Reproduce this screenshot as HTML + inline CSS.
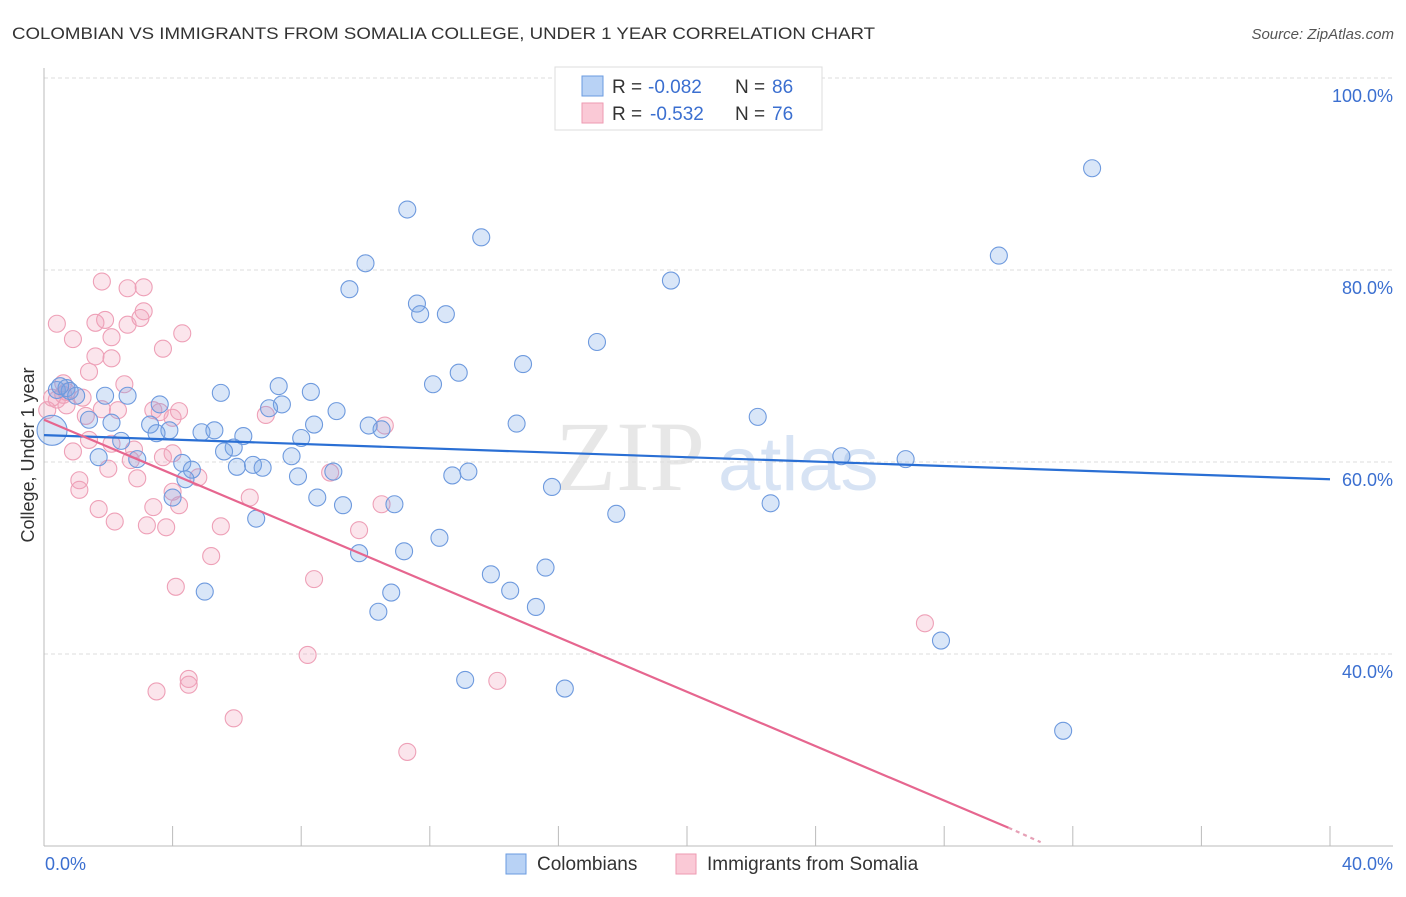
<!DOCTYPE html>
<html><head><meta charset="utf-8"><style>
body{margin:0;background:#fff;font-family:"Liberation Sans",sans-serif;}
</style></head><body>
<svg id="chart" width="1406" height="892" xmlns="http://www.w3.org/2000/svg" font-family="Liberation Sans, sans-serif">
<text x="12" y="39" font-size="17" fill="#333" textLength="863" lengthAdjust="spacingAndGlyphs">COLOMBIAN VS IMMIGRANTS FROM SOMALIA COLLEGE, UNDER 1 YEAR CORRELATION CHART</text>
<text x="1394" y="39" font-size="15" fill="#555" font-style="italic" text-anchor="end">Source: ZipAtlas.com</text>
<g>
<text x="555" y="490" font-size="100" fill="#ddd" font-family="Liberation Serif, serif" opacity="0.7">ZIP</text>
<text x="718" y="490" font-size="76" fill="#c7d8f0" opacity="0.7">atlas</text>
</g>
<g id="grid"></g>
<g id="axes"></g>
<g id="marks"></g>
<text transform="translate(34,455) rotate(-90)" font-size="18" fill="#333" text-anchor="middle">College, Under 1 year</text>
<text x="45" y="870" font-size="18" fill="#3b6fd0">0.0%</text>
<text x="1393" y="870" font-size="18" fill="#3b6fd0" text-anchor="end">40.0%</text>
<g>
<rect x="555" y="67" width="267" height="63" fill="#fff" stroke="#ddd"/>
<rect x="582" y="76" width="21" height="20" fill="#b8d2f5" stroke="#6a9be0"/>
<text y="93" font-size="19" fill="#333"><tspan x="612">R =</tspan><tspan x="648" fill="#3b6fd0">-0.082</tspan><tspan x="735">N =</tspan><tspan x="772" fill="#3b6fd0">86</tspan></text>
<rect x="582" y="103" width="21" height="20" fill="#fac9d6" stroke="#ee9ab2"/>
<text y="120" font-size="19" fill="#333"><tspan x="612">R =</tspan><tspan x="650" fill="#3b6fd0">-0.532</tspan><tspan x="735">N =</tspan><tspan x="772" fill="#3b6fd0">76</tspan></text>
</g>
<g>
<rect x="506" y="854" width="20" height="20" fill="#b8d2f5" stroke="#6a9be0"/>
<text x="537" y="870" font-size="19" fill="#333">Colombians</text>
<rect x="676" y="854" width="20" height="20" fill="#fac9d6" stroke="#ee9ab2"/>
<text x="707" y="870" font-size="19" fill="#333">Immigrants from Somalia</text>
</g>
</svg>
<script>
const blueX=[32.6,11.3,13.6,29.7,10.0,9.5,19.5,11.6,11.7,12.5,17.2,14.9,12.9,12.1,7.3,8.3,5.5,2.6,3.6,7.4,7.0,9.1,22.2,14.7,10.1,10.5,8.4,3.3,3.9,3.5,4.9,5.3,6.2,8.0,2.4,5.9,5.6,7.7,2.9,24.8,26.8,1.7,4.3,4.6,6.0,6.5,6.8,4.4,7.9,9.0,13.2,12.7,15.8,8.5,4.0,9.3,10.9,22.6,17.8,6.6,12.3,11.2,9.8,15.6,13.9,14.5,10.8,5.0,15.3,10.4,27.9,13.1,16.2,31.7,0.4,0.7,0.8,1.0,0.25,1.9,1.4,2.1,0.5];
const blueY=[90.6,86.3,83.4,81.5,80.7,78.0,78.9,76.5,75.4,75.4,72.5,70.2,69.3,68.1,67.9,67.3,67.2,66.9,66.0,66.0,65.6,65.3,64.7,64.0,63.8,63.4,63.9,63.9,63.3,63.0,63.1,63.3,62.7,62.5,62.2,61.5,61.1,60.6,60.3,60.6,60.3,60.5,59.9,59.2,59.5,59.7,59.4,58.2,58.5,59.0,59.0,58.6,57.4,56.3,56.3,55.5,55.6,55.7,54.6,54.1,52.1,50.7,50.5,49.0,48.3,46.6,46.4,46.5,44.9,44.4,41.4,37.3,36.4,32.0,67.5,67.7,67.4,66.9,63.3,66.9,64.4,64.1,67.9];
const pinkX=[1.8,2.6,3.1,0.4,0.9,1.6,1.9,2.6,3.0,3.1,4.3,2.1,3.7,1.6,2.1,1.4,2.5,0.6,0.4,0.7,1.2,1.8,2.3,3.4,3.6,4.2,6.9,10.6,1.4,0.9,2.1,2.8,3.7,4.0,2.0,4.8,1.1,2.9,1.1,4.0,6.4,1.7,2.2,3.4,3.2,3.8,5.5,8.9,10.5,9.8,5.2,8.4,4.1,8.2,27.4,4.5,4.5,3.5,14.1,5.9,11.3,0.1,0.25,0.6,0.7,4.0,1.3,2.7,4.2];
const pinkY=[78.8,78.1,78.2,74.4,72.8,74.5,74.8,74.3,75.0,75.7,73.4,73.0,71.8,71.0,70.8,69.4,68.1,68.2,66.5,65.9,66.7,65.5,65.4,65.4,65.2,65.3,64.9,63.8,62.3,61.1,61.9,61.3,60.5,60.9,59.3,58.4,58.1,58.3,57.1,56.9,56.3,55.1,53.8,55.3,53.4,53.2,53.3,58.9,55.6,52.9,50.2,47.8,47.0,39.9,43.2,37.4,36.8,36.1,37.2,33.3,29.8,65.4,66.7,67.0,67.3,64.6,64.8,60.2,55.5];
const yTicks=[100,80,60,40];
const yTickLabels=["100.0%","80.0%","60.0%","40.0%"];
const xTicks=[0,4,8,12,16,20,24,28,32,36,40];
const blueTrend=[[0,62.8],[40,58.2]];
const pinkTrend=[[0,64.4],[30.0,21.9]];
const pinkTrendDash=[[30.0,21.9],[31.0,20.4]];

const sx=v=>44+v/40*1286;
const sy=v=>1038-v*9.6;
const NS="http://www.w3.org/2000/svg";
function mk(tag,attrs,parent){const e=document.createElementNS(NS,tag);for(const k in attrs)e.setAttribute(k,attrs[k]);parent.appendChild(e);return e;}
const grid=document.getElementById('grid'),axes=document.getElementById('axes'),marks=document.getElementById('marks');
yTicks.forEach((t,i)=>{
  const l=mk('line',{x1:44,x2:1393,y1:sy(t),y2:sy(t),stroke:'#ddd','stroke-dasharray':'4,3'},grid);
  
  
  const tx=mk('text',{x:1393,y:sy(t)+24,'font-size':18,fill:'#3b6fd0','text-anchor':'end'},axes);
  tx.textContent=yTickLabels[i];
  
  
});
const ax=mk('line',{x1:44,x2:44,y1:68,y2:846,stroke:'#bbb'},axes);


const bx=mk('line',{x1:44,x2:1393,y1:846,y2:846,stroke:'#bbb'},axes);


xTicks.forEach(t=>{
  const l=mk('line',{x1:sx(t),x2:sx(t),y1:826,y2:846,stroke:'#bbb'},axes);
  
  
});
function dots(X,Y,fill,stroke,name){
  X.forEach((x,i)=>{
    const c=mk('circle',{cx:sx(x),cy:sy(Y[i]),r:(x<0.3&&Y[i]<64)?15:8.5,fill:fill,stroke:stroke,'stroke-width':1.1},marks);
    
    
  });
}
dots(pinkX,pinkY,'rgba(242,160,185,0.28)','#eea0b7','point-somalia');
dots(blueX,blueY,'rgba(120,165,230,0.28)','#6e9ade','point-colombians');
function line(p,col,name,dash){
  const l=mk('line',{x1:sx(p[0][0]),y1:sy(p[0][1]),x2:sx(p[1][0]),y2:sy(p[1][1]),stroke:col,'stroke-width':2.2},marks);
  if(dash)l.setAttribute('stroke-dasharray','4,4');
  
  
}
line(blueTrend,'#2a6fd4','trend-colombians');
line(pinkTrend,'#e6668f','trend-somalia');
line(pinkTrendDash,'#e6a0b6','trend-somalia-extension',true);
</script>
</body></html>
